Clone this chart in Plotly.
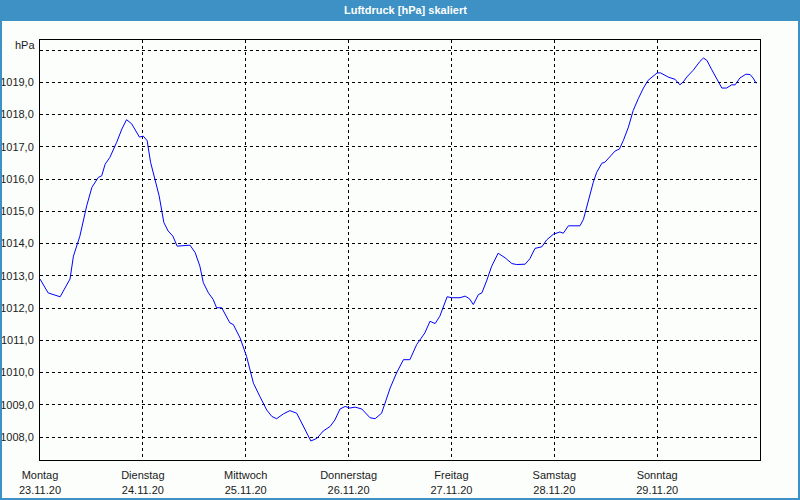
import pandas as pd
import plotly.graph_objects as go

# hours since Monday 23.11.20 00:00
hours = [0.0, 1.9, 4.7, 7.0, 7.8, 9.3, 10.9, 12.1, 13.6, 14.4, 15.2, 16.3, 17.9, 19.1, 20.2, 21.4,
         23.2, 24.1, 25.0, 25.8, 27.8, 28.9, 29.9, 31.0, 32.0, 35.0, 36.2, 37.3, 38.1, 39.3, 40.4,
         41.2, 42.4, 44.3, 45.1, 46.7, 48.2, 49.8, 51.3, 52.9, 54.1, 55.2, 56.8, 58.3, 59.9, 61.1,
         62.2, 63.2, 64.6, 66.1, 67.7, 68.8, 70.0, 71.2, 72.3, 73.5, 75.1, 77.0, 78.2, 79.7, 80.5,
         81.7, 83.2, 84.8, 86.3, 87.9, 89.8, 91.0, 92.2, 93.3, 95.0, 96.1, 98.0, 99.2, 100.2, 101.1,
         102.3, 103.1, 104.2, 105.4, 106.9, 108.5, 110.1, 111.2, 113.2, 114.3, 115.5, 117.1, 118.2,
         119.8, 121.3, 122.1, 123.3, 126.0, 126.8, 127.9, 129.1, 129.9, 131.1, 131.8, 133.0, 134.2,
         135.2, 136.1, 137.3, 138.4, 139.6, 140.8, 141.9, 143.1, 144.0, 144.8, 146.6, 148.2, 149.3,
         150.1, 150.9, 152.4, 154.0, 154.8, 155.6, 156.7, 157.9, 159.1, 160.2, 161.4, 162.2, 163.3,
         164.7, 165.7, 166.4, 167.1]
pressure = [1012.90, 1012.47, 1012.35, 1012.90, 1013.61, 1014.23, 1015.17, 1015.74, 1016.05, 1016.10,
            1016.46, 1016.67, 1017.14, 1017.55, 1017.84, 1017.71, 1017.30, 1017.33, 1017.19, 1016.52,
            1015.48, 1014.65, 1014.39, 1014.23, 1013.92, 1013.95, 1013.72, 1013.30, 1012.79, 1012.47,
            1012.27, 1012.01, 1012.01, 1011.54, 1011.49, 1011.07, 1010.50, 1009.67, 1009.26, 1008.84,
            1008.64, 1008.57, 1008.72, 1008.82, 1008.74, 1008.43, 1008.17, 1007.88, 1007.96, 1008.19,
            1008.33, 1008.53, 1008.87, 1008.95, 1008.90, 1008.93, 1008.87, 1008.60, 1008.57, 1008.74,
            1009.05, 1009.52, 1009.99, 1010.40, 1010.40, 1010.87, 1011.23, 1011.59, 1011.52, 1011.75,
            1012.35, 1012.32, 1012.32, 1012.37, 1012.29, 1012.11, 1012.42, 1012.47, 1012.84, 1013.30,
            1013.70, 1013.56, 1013.38, 1013.35, 1013.36, 1013.53, 1013.85, 1013.90, 1014.11, 1014.29,
            1014.36, 1014.32, 1014.55, 1014.55, 1014.75, 1015.32, 1015.90, 1016.21, 1016.49, 1016.52,
            1016.70, 1016.87, 1016.93, 1017.19, 1017.61, 1018.12, 1018.49, 1018.82, 1019.06, 1019.19,
            1019.29, 1019.29, 1019.16, 1019.09, 1018.92, 1019.01, 1019.16, 1019.37, 1019.65, 1019.75,
            1019.68, 1019.40, 1019.11, 1018.82, 1018.82, 1018.92, 1018.92, 1019.13, 1019.25, 1019.24,
            1019.13, 1018.97]

day_names = ["Montag", "Dienstag", "Mittwoch", "Donnerstag", "Freitag", "Samstag", "Sonntag"]
day_dates = ["23.11.20", "24.11.20", "25.11.20", "26.11.20", "27.11.20", "28.11.20", "29.11.20"]
y_ticks = [1008, 1009, 1010, 1011, 1012, 1013, 1014, 1015, 1016, 1017, 1018, 1019, 1020]
y_labels = ["1008,0", "1009,0", "1010,0", "1011,0", "1012,0", "1013,0", "1014,0", "1015,0",
            "1016,0", "1017,0", "1018,0", "1019,0", ""]

start = pd.Timestamp("2020-11-23")
times = start + pd.to_timedelta(hours, unit="h")
day_ticks = [start + pd.Timedelta(days=i) for i in range(len(day_names))]
day_text = [f"{n}<br>{d}" for n, d in zip(day_names, day_dates)]

BLUE = "#3d91c4"
FONT = "Liberation Sans"
TXT = "#1a1a1a"

fig = go.Figure(go.Scatter(x=times, y=pressure, mode="lines",
                           line=dict(color="#0000ff", width=1), hoverinfo="skip"))

W, H = 800, 500
L, R, T, B = 40, 40, 40, 40
pw, ph = W - L - R, H - T - B
def px(x):
    return (x - L) / pw
def py(y):
    return 1 - (y - T) / ph

fig.update_layout(
    width=W, height=H,
    margin=dict(l=L, r=R, t=T, b=B, autoexpand=False),
    paper_bgcolor="#fcfefc", plot_bgcolor="#fcfefc",
    showlegend=False,
    font=dict(family=FONT, size=11, color=TXT),
    xaxis=dict(range=[start, start + pd.Timedelta(days=7)], tickvals=day_ticks, ticktext=day_text,
               showgrid=True, gridcolor="black", griddash="3px,3px", gridwidth=1,
               showline=True, linecolor="black", linewidth=1, mirror=True,
               ticks="", ticklabelstandoff=5, tickfont=dict(size=11), zeroline=False,
               automargin=False),
    yaxis=dict(range=[1007.29, 1020.31], tickvals=y_ticks, ticktext=y_labels,
               showgrid=True, gridcolor="black", griddash="3px,3px", gridwidth=1,
               showline=True, linecolor="black", linewidth=1, mirror=True,
               ticks="", ticklabelstandoff=3, zeroline=False, automargin=False),
    shapes=[
        dict(type="rect", xref="paper", yref="paper", x0=px(0), x1=px(W), y0=py(21), y1=py(0),
             fillcolor=BLUE, line=dict(width=0), layer="above"),
        dict(type="rect", xref="paper", yref="paper", x0=px(1), x1=px(W - 1), y0=py(H - 1), y1=py(1),
             fillcolor="rgba(0,0,0,0)", line=dict(color=BLUE, width=2), layer="above"),
    ],
    annotations=[
        dict(text="<b>Luftdruck [hPa] skaliert</b>", xref="paper", yref="paper",
             x=px(405), y=py(10), xanchor="center", yanchor="middle", showarrow=False,
             font=dict(color="white", size=11, family=FONT)),
        dict(text="hPa", xref="paper", yref="paper", x=px(37), y=py(45),
             xanchor="right", yanchor="middle", showarrow=False,
             font=dict(size=11, family=FONT, color=TXT)),
    ],
)

fig.write_html("out.html")
